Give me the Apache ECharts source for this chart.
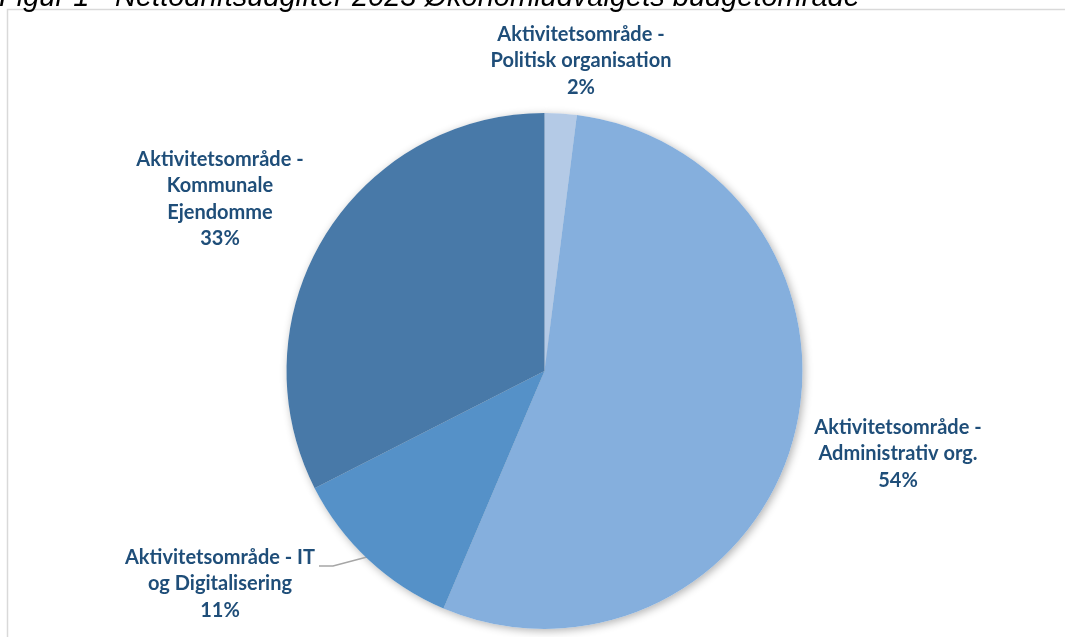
<!DOCTYPE html>
<html>
<head>
<meta charset="utf-8">
<script src="https://cdn.jsdelivr.net/npm/echarts@6/dist/echarts.min.js"></script>
<style>
html,body{margin:0;padding:0;background:#fff;}
#chart{width:1065px;height:637px;}
</style>
</head>
<body>
<div id="chart"></div>
<script>
const titleText = 'Figur 1 - Nettodriftsudgifter 2023 Økonomiudvalgets budgetområde';
const categories = [
  'Aktivitetsområde -\nPolitisk organisation',
  'Aktivitetsområde -\nAdministrativ org.',
  'Aktivitetsområde - IT\nog Digitalisering',
  'Aktivitetsområde -\nKommunale\nEjendomme'
];
const values = [2.0, 54.4, 11.1, 32.5];
const colors = ['#B4CAE6', '#85AFDD', '#5591C8', '#4879A8'];

// label anchor positions (layout, not data)
const labelPos = [[581, 61], [898, 454], [220, 584], [220, 199]];

const chart = echarts.init(document.getElementById('chart'), null, {renderer: 'canvas'});
const pieBase = {
  type: 'pie',
  center: [544.5, 371],
  radius: 258,
  startAngle: 90,
  clockwise: true
};
chart.setOption({
  backgroundColor: '#ffffff',
  animation: false,
  graphic: [
    {type: 'rect', shape: {x: 7.5, y: 9.5, width: 1100, height: 700},
     style: {fill: 'none', stroke: '#D9D9D9', lineWidth: 1.5}, z: 0},
    {type: 'text', x: -1, y: -17, z: 10,
     style: {text: titleText, font: 'italic 29px "Liberation Sans", Arial, sans-serif',
             fill: '#000000'}}
  ],
  series: [
    Object.assign({}, pieBase, {
      silent: true,
      z: 1,
      data: categories.map((c, i) => ({name: c, value: values[i]})),
      itemStyle: {color: '#ffffff', borderWidth: 0,
        shadowBlur: 9, shadowColor: 'rgba(0,0,0,0.3)', shadowOffsetX: 2, shadowOffsetY: 2},
      label: {show: false},
      labelLine: {show: false}
    }),
    Object.assign({}, pieBase, {
      z: 2,
      data: categories.map((c, i) => ({
        name: c, value: values[i],
        itemStyle: {color: colors[i]},
        labelLine: {show: i === 2}
      })),
      itemStyle: {borderWidth: 0},
      label: {
        show: true,
        position: 'outside',
        formatter: p => p.name + '\n' + Math.round(p.percent) + '%',
        fontFamily: 'Lato, "Open Sans", sans-serif',
        fontWeight: 'bold',
        fontSize: 20,
        lineHeight: 26.5,
        color: '#1F4E79',
        align: 'center'
      },
      labelLine: {
        show: true,
        lineStyle: {color: '#A6A6A6', width: 1.5},
        length: 10, length2: 10
      },
      labelLayout: function (params) {
        const i = params.dataIndex;
        const p = labelPos[i];
        const r = {x: p[0], y: p[1], align: 'center', verticalAlign: 'middle'};
        if (i === 2) {
          r.labelLinePoints = [[367, 557], [333, 566], [319, 566]];
        }
        return r;
      }
    })
  ]
});
</script>
</body>
</html>
